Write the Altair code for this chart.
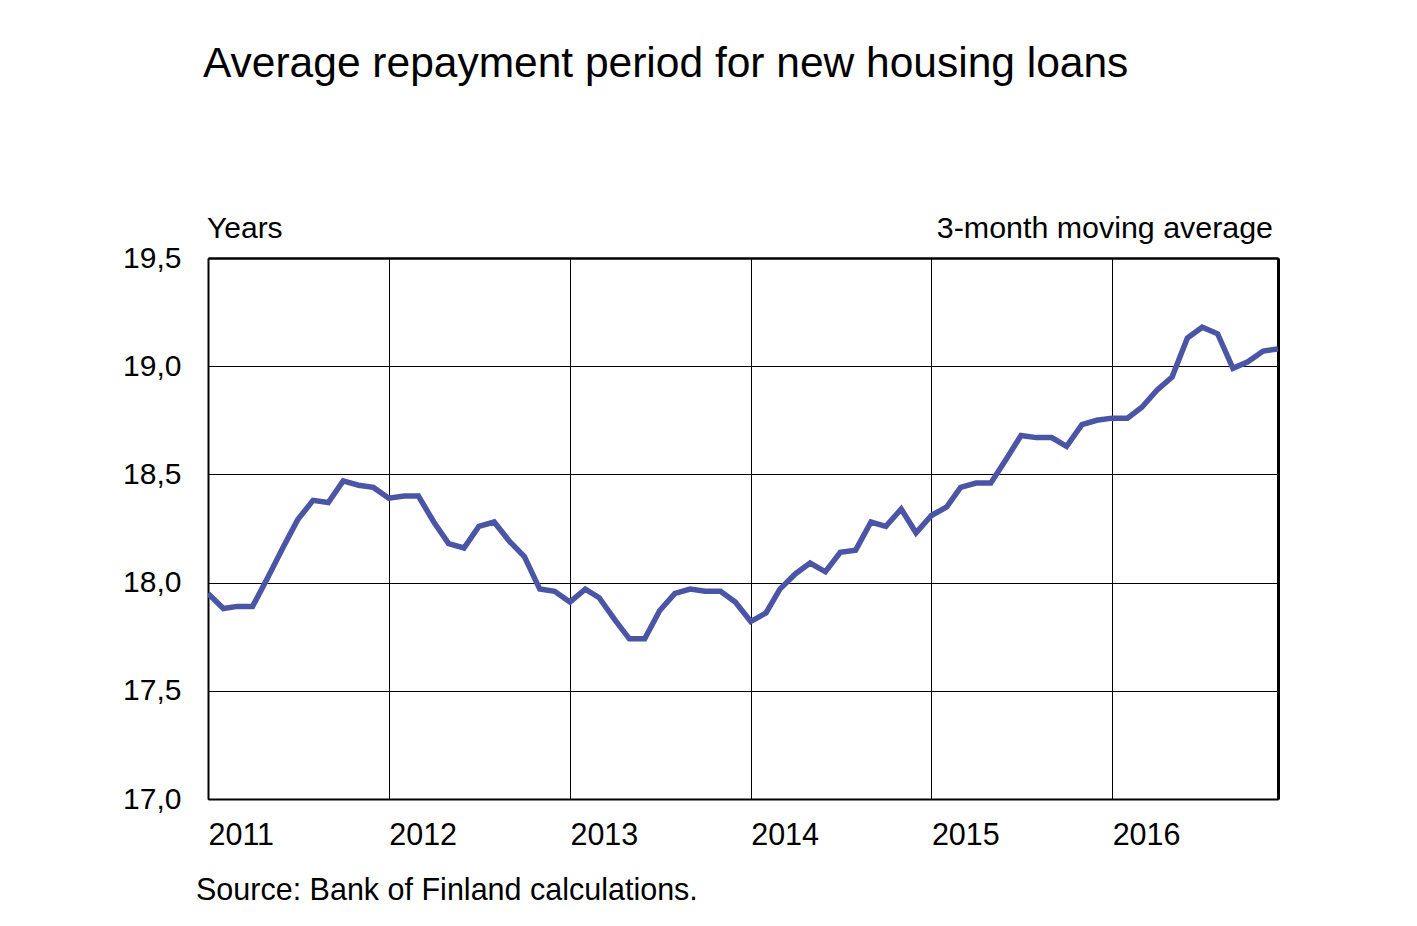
import altair as alt
import pandas as pd

years = [2011, 2012, 2013, 2014, 2015, 2016]
values_2011 = [17.95, 17.88, 17.89, 17.89, 18.02, 18.16, 18.29, 18.38, 18.37, 18.47, 18.45, 18.44]
values_2012 = [18.39, 18.40, 18.40, 18.28, 18.18, 18.16, 18.26, 18.28, 18.19, 18.12, 17.97, 17.96]
values_2013 = [17.91, 17.97, 17.93, 17.83, 17.74, 17.74, 17.87, 17.95, 17.97, 17.96, 17.96, 17.91]
values_2014 = [17.82, 17.86, 17.97, 18.04, 18.09, 18.05, 18.14, 18.15, 18.28, 18.26, 18.34, 18.23]
values_2015 = [18.31, 18.35, 18.44, 18.46, 18.46, 18.57, 18.68, 18.67, 18.67, 18.63, 18.73, 18.75]
values_2016 = [18.76, 18.76, 18.81, 18.89, 18.95, 19.13, 19.18, 19.15, 18.99, 19.02, 19.07, 19.08]

y_ticks = [17.0, 17.5, 18.0, 18.5, 19.0, 19.5]

title_text = "Average repayment period for new housing loans"
unit_text = "Years"
note_text = "3-month moving average"
source_text = "Source: Bank of Finland calculations."

all_values = values_2011 + values_2012 + values_2013 + values_2014 + values_2015 + values_2016
dates = [f"{y}-{m:02d}-01" for y in years for m in range(1, 13)]
df = pd.DataFrame({"date": dates, "value": all_values})

FONT = "Liberation Sans"
W, H = 1070, 541

x_scale = alt.Scale(
    type="utc",
    domain=[alt.DateTime(year=2011, month=1, date=1, utc=True),
            alt.DateTime(year=2016, month=12, date=1, utc=True)],
)
y_scale = alt.Scale(domain=[17.0, 19.5], nice=False, zero=False)

x_enc = alt.X(
    "date:T",
    scale=x_scale,
    axis=alt.Axis(
        title=None,
        format="%Y",
        formatType="utc",
        tickCount={"interval": "year", "step": 1},
        labelAlign="left",
        labelPadding=21,
        ticks=False,
        grid=True,
        gridColor="black",
        gridWidth=1,
        domainColor="black",
        domainWidth=2,
        labelFontSize=30.5,
        labelColor="black",
        labelFont=FONT,
        labelOverlap=False,
    ),
)
y_enc = alt.Y(
    "value:Q",
    scale=y_scale,
    axis=alt.Axis(
        title=None,
        values=y_ticks,
        labelExpr="replace(format(datum.value, '.1f'), '.', ',')",
        labelPadding=27,
        ticks=False,
        grid=True,
        gridColor="black",
        gridWidth=1,
        domainColor="black",
        domainWidth=2,
        labelFontSize=30,
        labelColor="black",
        labelFont=FONT,
    ),
)

# frame on top and right drawn as axis domains
frame = alt.Chart(df).mark_line(opacity=0).encode(
    x=alt.X("date:T", scale=x_scale,
            axis=alt.Axis(orient="top", title=None, labels=False, ticks=False, grid=False,
                          domainColor="black", domainWidth=2.5)),
    y=alt.Y("value:Q", scale=y_scale,
            axis=alt.Axis(orient="right", title=None, labels=False, ticks=False, grid=False,
                          domainColor="black", domainWidth=3)),
)

line = alt.Chart(df).mark_line(color="#4b55a5", strokeWidth=5.5, clip=True).encode(x=x_enc, y=y_enc)


def label(text, x, y, size, align="left"):
    return alt.Chart(pd.DataFrame({"t": [text]})).mark_text(
        align=align, baseline="alphabetic", font=FONT, fontSize=size, color="black"
    ).encode(text="t:N", x=alt.value(x), y=alt.value(y))


chart = alt.layer(
    line,
    frame,
    label(title_text, -5, -181, 42.5),
    label(unit_text, -1, -20, 30),
    label(note_text, 1065, -20, 30.4, align="right"),
    label(source_text, -12, 642, 30.5),
).resolve_axis(x="independent", y="independent").properties(
    width=W,
    height=H,
    autosize=alt.AutoSizeParams(type="none"),
    padding={"left": 200, "top": 250, "right": 130, "bottom": 110},
).configure_view(stroke="black", strokeWidth=2).configure(background="white")

chart.save("out.html", embed_options={"renderer": "svg", "actions": False})
